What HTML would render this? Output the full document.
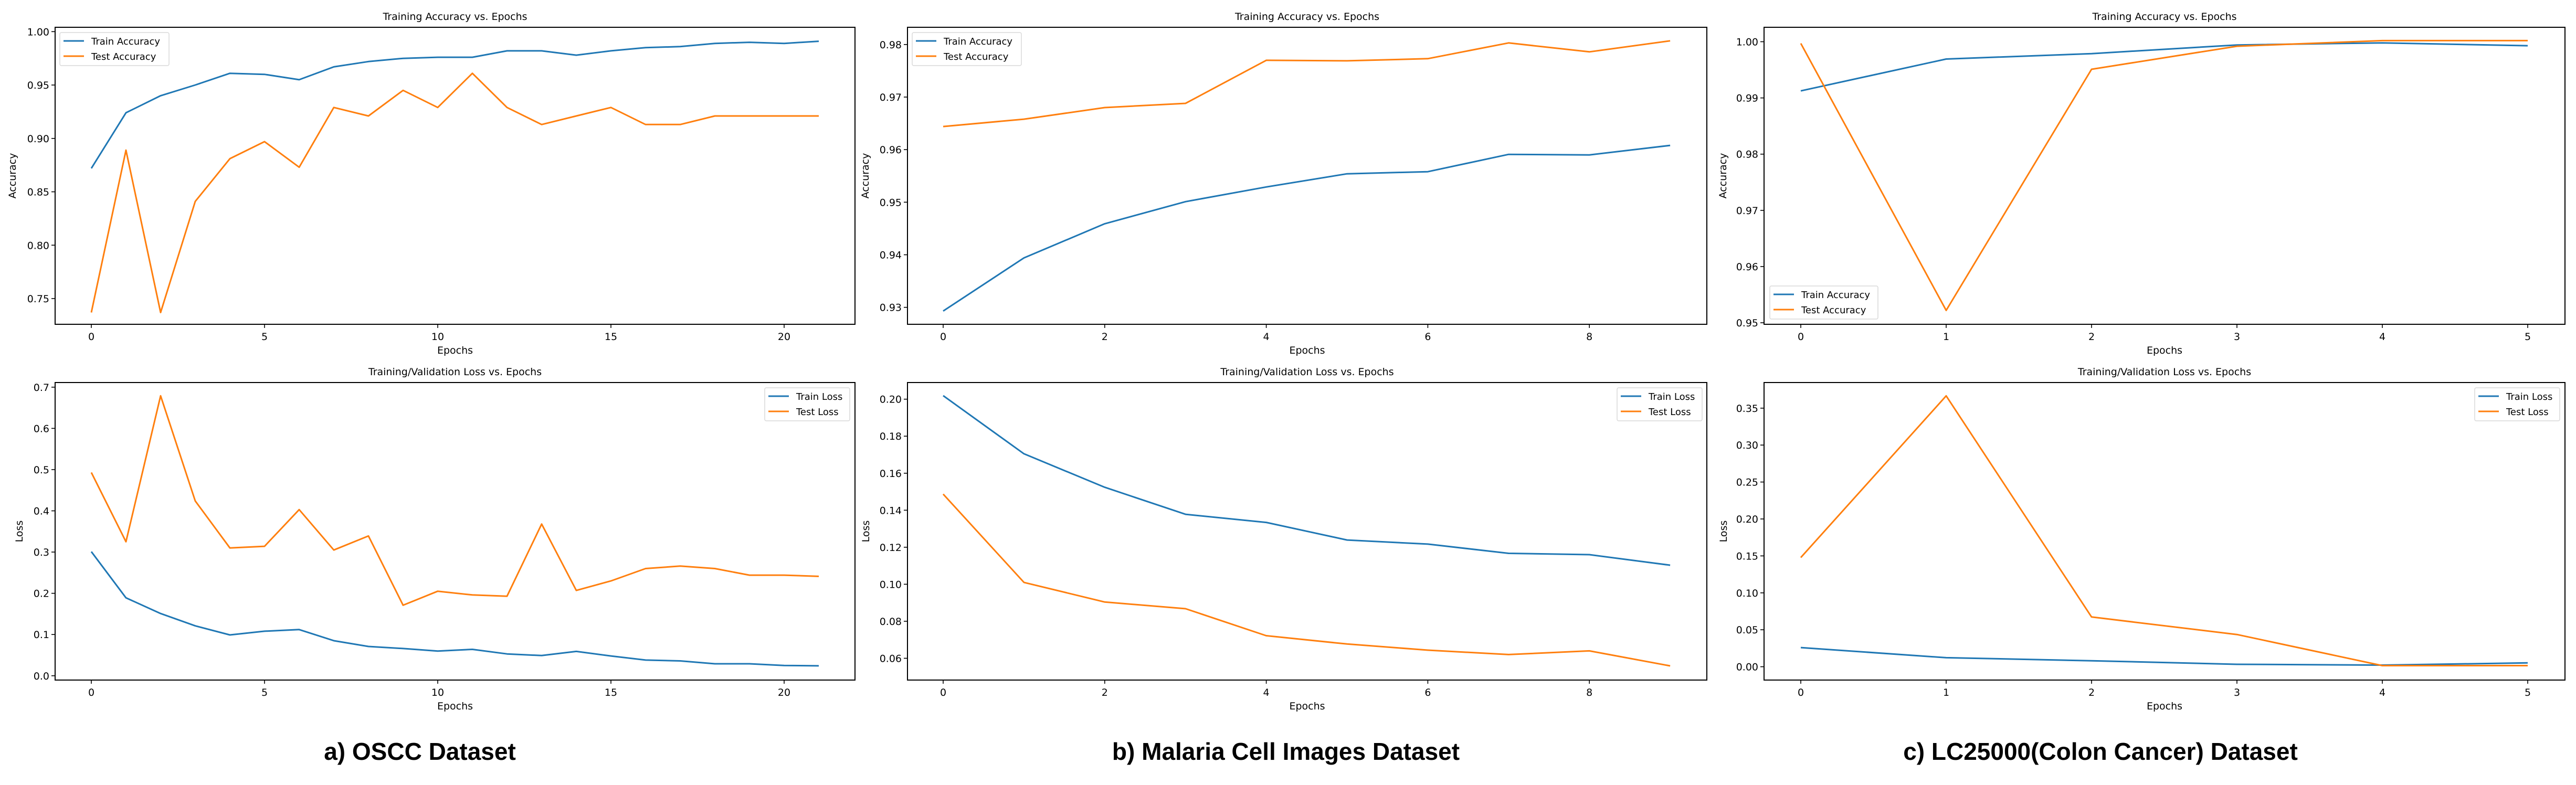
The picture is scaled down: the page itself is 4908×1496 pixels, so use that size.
<!DOCTYPE html>
<html><head><meta charset="utf-8">
<style>
html,body{margin:0;padding:0;background:#fff;}
svg{display:block;}
text{font-family:"DejaVu Sans","Liberation Sans",sans-serif;fill:#000;}
.cap{font-family:"Liberation Sans",Arial,sans-serif;font-weight:bold;}
</style></head>
<body>
<svg id="fig" width="4908" height="1496" viewBox="0 0 4908 1496" xmlns="http://www.w3.org/2000/svg">
<rect width="4908" height="1496" fill="#fff"/>
</svg>
<script>
// ---- data ----
const epochsA = [0,1,2,3,4,5,6,7,8,9,10,11,12,13,14,15,16,17,18,19,20,21];
const accTrainA = [0.872,0.924,0.940,0.950,0.961,0.960,0.955,0.967,0.972,0.975,0.976,0.976,0.982,0.982,0.978,0.982,0.985,0.986,0.989,0.990,0.989,0.991];
const accTestA = [0.737,0.889,0.737,0.841,0.881,0.897,0.873,0.929,0.921,0.945,0.929,0.961,0.929,0.913,0.921,0.929,0.913,0.913,0.921,0.921,0.921,0.921];
const lossTrainA = [0.301,0.189,0.151,0.121,0.099,0.108,0.112,0.085,0.071,0.066,0.060,0.064,0.053,0.049,0.059,0.048,0.038,0.036,0.029,0.029,0.025,0.024];
const lossTestA = [0.493,0.325,0.679,0.424,0.310,0.314,0.403,0.305,0.339,0.171,0.205,0.196,0.193,0.368,0.207,0.230,0.260,0.266,0.260,0.244,0.244,0.241];
const epochsB = [0,1,2,3,4,5,6,7,8,9];
const accTrainB = [0.9293,0.9394,0.9459,0.9501,0.9529,0.9554,0.9558,0.9591,0.9590,0.9608];
const accTestB = [0.9644,0.9658,0.9680,0.9688,0.9770,0.9769,0.9773,0.9803,0.9786,0.9807];
const lossTrainB = [0.2019,0.1705,0.1524,0.1378,0.1334,0.1239,0.1217,0.1167,0.1160,0.1103];
const lossTestB = [0.1487,0.1010,0.0904,0.0868,0.0722,0.0677,0.0644,0.0620,0.0640,0.0559];
const epochsC = [0,1,2,3,4,5];
const accTrainC = [0.99125,0.99692,0.99788,0.99942,0.99979,0.99929];
const accTestC = [0.9997,0.9522,0.9951,0.9992,1.0002,1.0002];
const lossTrainC = [0.0259,0.0122,0.0081,0.0033,0.0022,0.0052];
const lossTestC = [0.1478,0.3666,0.0673,0.0436,0.0015,0.0015];
const xTicksA = [0,5,10,15,20];
const xTicksB = [0,2,4,6,8];
const xTicksC = [0,1,2,3,4,5];
const yTicksAccA = ["0.75","0.80","0.85","0.90","0.95","1.00"];
const yTicksLossA = ["0.0","0.1","0.2","0.3","0.4","0.5","0.6","0.7"];
const yTicksAccB = ["0.93","0.94","0.95","0.96","0.97","0.98"];
const yTicksLossB = ["0.06","0.08","0.10","0.12","0.14","0.16","0.18","0.20"];
const yTicksAccC = ["0.95","0.96","0.97","0.98","0.99","1.00"];
const yTicksLossC = ["0.00","0.05","0.10","0.15","0.20","0.25","0.30","0.35"];
const captions = ["a) OSCC Dataset","b) Malaria Cell Images Dataset","c) LC25000(Colon Cancer) Dataset"];

const NS = "http://www.w3.org/2000/svg";
const fig = document.getElementById('fig');
function mk(tag, attrs, parent){
  const e = document.createElementNS(NS, tag);
  for (const k in attrs) e.setAttribute(k, attrs[k]);
  (parent||fig).appendChild(e);
  return e;
}
const BLUE = "#1f77b4", ORANGE = "#ff7f0e";

// cfg: axes box, calibration of x (x0 px at epoch 0, dx per epoch), y (two ref values -> px)
function plot(cfg){
  const g = mk('g', {});
  
  
  const X = v => cfg.x0 + v*cfg.dx;
  const Y = v => cfg.py1 + (v - cfg.v1)*(cfg.py2 - cfg.py1)/(cfg.v2 - cfg.v1);
  // title
  const t = mk('text', {x:(cfg.L+cfg.R)/2, y:cfg.T-14, 'font-size':19, 'text-anchor':'middle'}, g);
  t.textContent = cfg.title;
  
  
  // series
  const series = [[cfg.train, BLUE, cfg.trainLabel],[cfg.test, ORANGE, cfg.testLabel]];
  const clip = mk('clipPath', {id:'clip'+cfg.id}, g);
  mk('rect', {x:cfg.L, y:cfg.T, width:cfg.R-cfg.L, height:cfg.B-cfg.T}, clip);
  series.forEach((s,i)=>{
    const pts = cfg.epochs.map((e,j)=> X(e).toFixed(1)+','+Y(s[0][j]).toFixed(1)).join(' ');
    const pl = mk('polyline', {points:pts, fill:'none', stroke:s[1], 'stroke-width':3, 'stroke-linejoin':'round', 'clip-path':'url(#clip'+cfg.id+')'}, g);
    
    
  });
  // axes frame
  const fr = mk('rect', {x:cfg.L, y:cfg.T, width:cfg.R-cfg.L, height:cfg.B-cfg.T, fill:'none', stroke:'#000', 'stroke-width':2}, g);
  
  
  // x ticks
  cfg.xticks.forEach(v=>{
    const x = X(v);
    mk('line', {x1:x, x2:x, y1:cfg.B, y2:cfg.B+7, stroke:'#000', 'stroke-width':1.6}, g);
    const tl = mk('text', {x:x, y:cfg.B+30, 'font-size':19, 'text-anchor':'middle'}, g);
    tl.textContent = String(v);
    
    
  });
  // y ticks
  cfg.yticks.forEach(s=>{
    const y = Y(parseFloat(s));
    mk('line', {x1:cfg.L-7, x2:cfg.L, y1:y, y2:y, stroke:'#000', 'stroke-width':1.6}, g);
    const tl = mk('text', {x:cfg.L-11, y:y+7, 'font-size':19, 'text-anchor':'end'}, g);
    tl.textContent = s;
    
    
  });
  // axis labels
  const xl = mk('text', {x:(cfg.L+cfg.R)/2, y:cfg.B+56, 'font-size':19, 'text-anchor':'middle'}, g);
  xl.textContent = 'Epochs';
  
  
  const cy = (cfg.T+cfg.B)/2;
  const yl = mk('text', {x:cfg.ylx, y:cy, 'font-size':19, 'text-anchor':'middle', transform:'rotate(-90 '+cfg.ylx+' '+cy+')'}, g);
  yl.textContent = cfg.ylabel;
  
  
  // legend
  const lg = mk('g', {}, g);
  
  
  const lx = cfg.legX, ly = cfg.legY;
  mk('rect', {x:lx, y:ly, width:cfg.legW, height:63, rx:3, fill:'#fff', 'fill-opacity':0.8, stroke:'#d9d9d9', 'stroke-width':1.5}, lg);
  series.forEach((s,i)=>{
    const yy = ly + 16 + i*29;
    mk('line', {x1:lx+7, x2:lx+46, y1:yy, y2:yy, stroke:s[1], 'stroke-width':3}, lg);
    const tx = mk('text', {x:lx+60, y:yy+7, 'font-size':18}, lg);
    tx.textContent = s[2];
    
    
  });
}

const TOP = {T:52, B:618}, BOT = {T:729, B:1296};
const cols = [
  {L:105, R:1629, x0:174, dx:66},
  {L:1729, R:3252, x0:1797, dx:153.9},
  {L:3361, R:4887, x0:3431, dx:277}
];
// Row 1: accuracy
plot(Object.assign({id:'a1', name:'oscc-accuracy-chart', title:'Training Accuracy vs. Epochs', epochs:epochsA, train:accTrainA, test:accTestA, trainLabel:'Train Accuracy', testLabel:'Test Accuracy', xticks:xTicksA, yticks:yTicksAccA, v1:1.00, py1:60.3, v2:0.75, py2:569, ylabel:'Accuracy', ylx:30, legX:114, legY:62, legW:208}, TOP, cols[0]));
plot(Object.assign({id:'b1', name:'malaria-accuracy-chart', title:'Training Accuracy vs. Epochs', epochs:epochsB, train:accTrainB, test:accTestB, trainLabel:'Train Accuracy', testLabel:'Test Accuracy', xticks:xTicksB, yticks:yTicksAccB, v1:0.98, py1:84.8, v2:0.93, py2:585.7, ylabel:'Accuracy', ylx:1655, legX:1738, legY:62, legW:208}, TOP, cols[1]));
plot(Object.assign({id:'c1', name:'colon-accuracy-chart', title:'Training Accuracy vs. Epochs', epochs:epochsC, train:accTrainC, test:accTestC, trainLabel:'Train Accuracy', testLabel:'Test Accuracy', xticks:xTicksC, yticks:yTicksAccC, v1:1.00, py1:79.5, v2:0.95, py2:615.1, ylabel:'Accuracy', ylx:3289, legX:3372, legY:545, legW:206}, TOP, cols[2]));
// Row 2: loss
plot(Object.assign({id:'a2', name:'oscc-loss-chart', title:'Training/Validation Loss vs. Epochs', epochs:epochsA, train:lossTrainA, test:lossTestA, trainLabel:'Train Loss', testLabel:'Test Loss', xticks:xTicksA, yticks:yTicksLossA, v1:0.7, py1:737.8, v2:0.0, py2:1287.8, ylabel:'Loss', ylx:43, legX:1457, legY:739, legW:162}, BOT, cols[0]));
plot(Object.assign({id:'b2', name:'malaria-loss-chart', title:'Training/Validation Loss vs. Epochs', epochs:epochsB, train:lossTrainB, test:lossTestB, trainLabel:'Train Loss', testLabel:'Test Loss', xticks:xTicksB, yticks:yTicksLossB, v1:0.20, py1:760.7, v2:0.06, py2:1254.5, ylabel:'Loss', ylx:1656, legX:3081, legY:739, legW:162}, BOT, cols[1]));
plot(Object.assign({id:'c2', name:'colon-loss-chart', title:'Training/Validation Loss vs. Epochs', epochs:epochsC, train:lossTrainC, test:lossTestC, trainLabel:'Train Loss', testLabel:'Test Loss', xticks:xTicksC, yticks:yTicksLossC, v1:0.35, py1:777.8, v2:0.0, py2:1270.6, ylabel:'Loss', ylx:3290, legX:4715, legY:739, legW:162}, BOT, cols[2]));

// captions
const capX = [800, 2450, 4002];
captions.forEach((c,i)=>{
  const t = mk('text', {x:capX[i], y:1448, 'font-size':46, 'text-anchor':'middle', class:'cap'});
  t.textContent = c;
  
  
});
</script>
</body></html>
